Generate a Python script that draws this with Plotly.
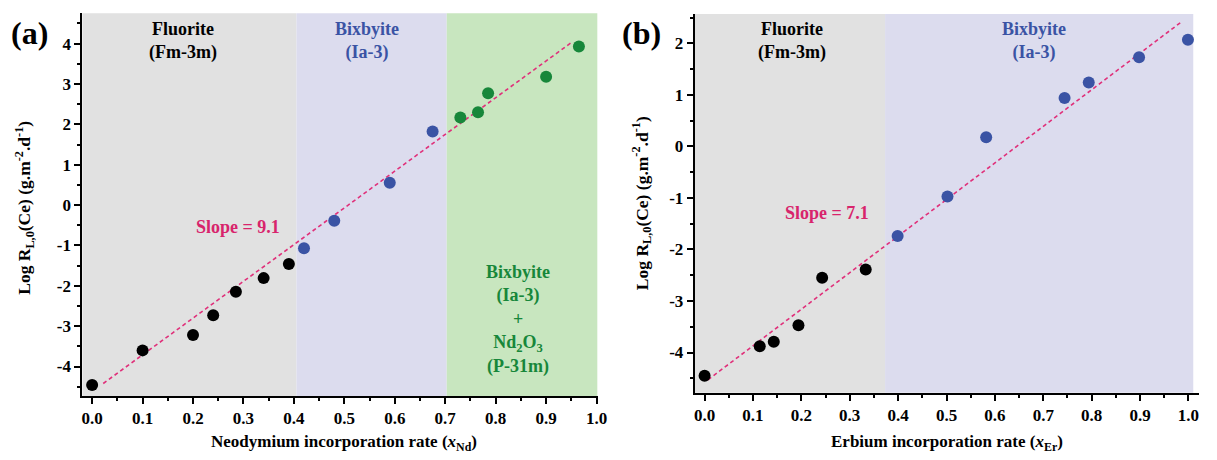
import numpy as np
import plotly.graph_objects as go

# ---- Panel (a): Nd incorporation ----
nd_x_fluorite = [0.0, 0.10, 0.20, 0.24, 0.285, 0.34, 0.39]
nd_y_fluorite = [-4.46, -3.60, -3.22, -2.73, -2.15, -1.81, -1.46]
nd_x_bixbyite = [0.42, 0.48, 0.59, 0.675]
nd_y_bixbyite = [-1.07, -0.39, 0.55, 1.82]
nd_x_mixed = [0.73, 0.765, 0.785, 0.90, 0.965]
nd_y_mixed = [2.17, 2.30, 2.77, 3.18, 3.93]
nd_slope = 9.1
nd_intercept = -4.62
nd_fit_span = [0.022, 0.949]
nd_phase_bounds = [0.405, 0.703]

# ---- Panel (b): Er incorporation ----
er_x_fluorite = [0.0, 0.114, 0.143, 0.194, 0.243, 0.333]
er_y_fluorite = [-4.45, -3.88, -3.79, -3.47, -2.55, -2.39]
er_x_bixbyite = [0.399, 0.502, 0.582, 0.744, 0.794, 0.898, 0.999]
er_y_bixbyite = [-1.74, -0.97, 0.18, 0.94, 1.24, 1.73, 2.07]
er_slope = 7.1
er_intercept = -4.58
er_fit_span = [0.007, 0.986]
er_phase_bounds = [0.373, 1.01]

x_ticks = [0.0, 0.1, 0.2, 0.3, 0.4, 0.5, 0.6, 0.7, 0.8, 0.9, 1.0]
y_ticks_a = [-4, -3, -2, -1, 0, 1, 2, 3, 4]
y_ticks_b = [-4, -3, -2, -1, 0, 1, 2]

BLACK = "#000000"
BLUE = "#3a53a4"
GREEN = "#17873a"
PINK = "#e0307a"
SLOPE_TXT = "#d8246c"
GRAY_BG = "#e1e1e1"
LAV_BG = "#dcdcee"
GREEN_BG = "#c8e6bf"
FONT = "Liberation Serif, Times New Roman, Times, serif"

fig = go.Figure()


def add_points(xs, ys, color, xa, ya):
    fig.add_trace(go.Scatter(
        x=xs, y=ys, mode="markers", xaxis=xa, yaxis=ya,
        marker=dict(color=color, size=12, line=dict(width=0)),
        showlegend=False, hoverinfo="skip"))


def add_fit(slope, intercept, span, xa, ya):
    xs = np.array(span)
    fig.add_trace(go.Scatter(
        x=xs, y=slope * xs + intercept, mode="lines", xaxis=xa, yaxis=ya,
        line=dict(color=PINK, width=1.6, dash="4px,3px"),
        showlegend=False, hoverinfo="skip"))


# fit lines first so markers sit on top
add_fit(nd_slope, nd_intercept, nd_fit_span, "x", "y")
add_fit(er_slope, er_intercept, er_fit_span, "x2", "y2")

add_points(nd_x_fluorite, nd_y_fluorite, BLACK, "x", "y")
add_points(nd_x_bixbyite, nd_y_bixbyite, BLUE, "x", "y")
add_points(nd_x_mixed, nd_y_mixed, GREEN, "x", "y")
add_points(er_x_fluorite, er_y_fluorite, BLACK, "x2", "y2")
add_points(er_x_bixbyite, er_y_bixbyite, BLUE, "x2", "y2")

# phase regions as background bands
xr_a = [-0.0196, 1.002]
xr_b = [-0.0205, 1.022]
shapes = []
for x0, x1, col in [(xr_a[0], nd_phase_bounds[0], GRAY_BG),
                    (nd_phase_bounds[0], nd_phase_bounds[1], LAV_BG),
                    (nd_phase_bounds[1], xr_a[1], GREEN_BG)]:
    shapes.append(dict(type="rect", xref="x", yref="y domain", x0=x0, x1=x1,
                       y0=0, y1=1, fillcolor=col, line=dict(width=0), layer="below"))
for x0, x1, col in [(xr_b[0], er_phase_bounds[0], GRAY_BG),
                    (er_phase_bounds[0], er_phase_bounds[1], LAV_BG)]:
    shapes.append(dict(type="rect", xref="x2", yref="y2 domain", x0=x0, x1=x1,
                       y0=0, y1=1, fillcolor=col, line=dict(width=0), layer="below"))

ann = []


def label(text, x, y, xref, yref, color, size=18, angle=0):
    ann.append(dict(text=text, x=x, y=y, xref=xref, yref=yref, showarrow=False,
                    font=dict(family=FONT, size=size, color=color, weight="bold"),
                    textangle=angle, xanchor="center", yanchor="middle", align="center"))


label("Fluorite<br>(Fm-3m)", 0.18, 4.07, "x", "y", BLACK)
label("Bixbyite<br>(Ia-3)", 0.545, 4.07, "x", "y", BLUE)
label("Bixbyite<br>(Ia-3)<br>+<br>Nd<sub>2</sub>O<sub>3</sub><br>(P-31m)",
      0.845, -2.84, "x", "y", GREEN)
label("Slope = 9.1", 0.29, -0.55, "x", "y", SLOPE_TXT)

label("Fluorite<br>(Fm-3m)", 0.18, 2.05, "x2", "y2", BLACK)
label("Bixbyite<br>(Ia-3)", 0.68, 2.05, "x2", "y2", BLUE)
label("Slope = 7.1", 0.253, -1.30, "x2", "y2", SLOPE_TXT)

label("(a)", 29 / 1217, 1 - 33 / 460, "paper", "paper", BLACK, 32)
label("(b)", 646 / 1217, 1 - 33 / 460, "paper", "paper", BLACK, 32)

ylab = "Log R<sub>L,0</sub>(Ce) (g.m<sup>-2</sup>.d<sup>-1</sup>)"
label(ylab, 23 / 1217, 1 - 208 / 460, "paper", "paper", BLACK, 17.5, -90)
label(ylab, 646 / 1217, 1 - 203 / 460, "paper", "paper", BLACK, 17.5, -90)
label("Neodymium incorporation rate (<i>x</i><sub>Nd</sub>)",
      346 / 1217, 1 - 443 / 460, "paper", "paper", BLACK, 17)
label("Erbium incorporation rate (<i>x</i><sub>Er</sub>)",
      955 / 1217, 1 - 443 / 460, "paper", "paper", BLACK, 17)


def xaxis(domain, rng, anchor):
    return dict(domain=domain, range=rng, anchor=anchor, tickvals=x_ticks,
                ticktext=[f"{v:.1f}" for v in x_ticks],
                ticks="outside", ticklen=6, tickwidth=1.5, tickcolor=BLACK,
                minor=dict(ticks="outside", ticklen=3, tickwidth=1.5, tickcolor=BLACK,
                           dtick=0.05, tick0=0),
                showline=True, linecolor=BLACK, linewidth=1.8, showgrid=False,
                zeroline=False, mirror=False,
                tickfont=dict(family=FONT, size=17, color=BLACK, weight="bold"))


def yaxis(domain, rng, anchor, ticks):
    return dict(domain=domain, range=rng, anchor=anchor, tickvals=ticks,
                ticktext=[f"{v:d}" for v in ticks],
                ticks="outside", ticklen=6, tickwidth=1.5, tickcolor=BLACK,
                minor=dict(ticks="outside", ticklen=3, tickwidth=1.5, tickcolor=BLACK,
                           dtick=0.5, tick0=0),
                showline=True, linecolor=BLACK, linewidth=1.8, showgrid=False,
                zeroline=False, mirror=False,
                tickfont=dict(family=FONT, size=17, color=BLACK, weight="bold"))


fig.update_layout(
    width=1217, height=460,
    margin=dict(l=0, r=0, t=0, b=0),
    paper_bgcolor="white", plot_bgcolor="rgba(0,0,0,0)",
    font=dict(family=FONT),
    xaxis=xaxis([82 / 1217, 602 / 1217], xr_a, "y"),
    yaxis=yaxis([1 - 396 / 460, 1 - 13.3 / 460], [-4.73, 4.75], "x", y_ticks_a),
    xaxis2=xaxis([700 / 1217, 1209 / 1217], xr_b, "y2"),
    yaxis2=yaxis([1 - 392.7 / 460, 1 - 14 / 460], [-4.78, 2.57], "x2", y_ticks_b),
    shapes=shapes, annotations=ann,
)

fig.write_html("out.html")
